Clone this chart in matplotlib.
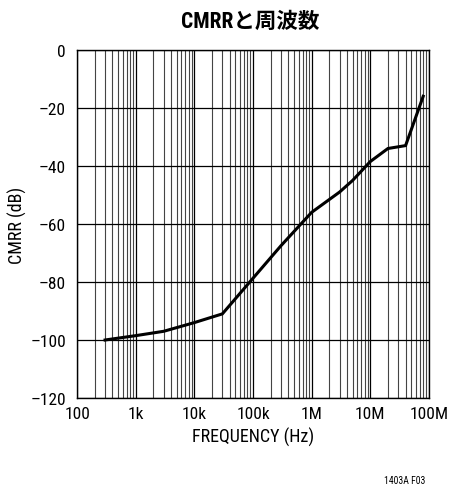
import numpy as np
import matplotlib
matplotlib.use("Agg")
from matplotlib import pyplot as plt
from matplotlib.ticker import LogLocator, NullFormatter

# CMRR vs frequency
freq = [300, 1e3, 3e3, 10e3, 30e3, 300e3, 1e6, 3e6, 5e6, 10e6, 20e6, 40e6, 80e6]
cmrr = [-100, -98.5, -97, -94, -91, -67.5, -56, -49, -45, -38.5, -34, -33, -16]

xticks = [1e2, 1e3, 1e4, 1e5, 1e6, 1e7, 1e8]
xtick_labels = ["100", "1k", "10k", "100k", "1M", "10M", "100M"]
yticks = [0, -20, -40, -60, -80, -100, -120]

plt.rcParams['font.family'] = ['Roboto Condensed', 'Noto Sans CJK JP']

fig = plt.figure(figsize=(4.51, 4.89), dpi=100)
ax = fig.add_axes([0.171, 0.184, 0.78, 0.712])

ax.plot(freq, cmrr, color="black", linewidth=2.2, solid_joinstyle="miter", zorder=3)

ax.set_xscale("log")
ax.set_xlim(1e2, 1e8)
ax.set_ylim(-120, 0)

ax.set_xticks(xticks)
ax.set_xticklabels(xtick_labels)
ax.set_yticks(yticks)
ax.set_yticklabels([str(v).replace("-", "\u2013") for v in yticks])

ax.tick_params(which="both", length=0, labelsize=12.5)
ax.tick_params(axis="y", pad=8)
ax.tick_params(axis="x", pad=6)

# minor decade lines 2..9, numticks fixed so they are not thinned out
ax.xaxis.set_minor_locator(LogLocator(base=10, subs=np.arange(2, 10), numticks=50))
ax.xaxis.set_minor_formatter(NullFormatter())
ax.grid(which="major", axis="both", color="black", linewidth=0.9)
ax.grid(which="minor", axis="x", color="#444444", linewidth=0.8)
for s in ax.spines.values():
    s.set_linewidth(1.0)

ax.set_xlabel("FREQUENCY (Hz)", fontsize=13, labelpad=4)
ax.set_ylabel("CMRR (dB)", fontsize=13, labelpad=2)

fig.text(0.555, 0.955, "CMRRと周波数", ha="center", va="center", fontsize=15.5,
         fontweight="bold")
fig.text(0.898, 0.016, "1403A F03", ha="center", va="center", fontsize=7)

fig.savefig("out.png", dpi=100)
